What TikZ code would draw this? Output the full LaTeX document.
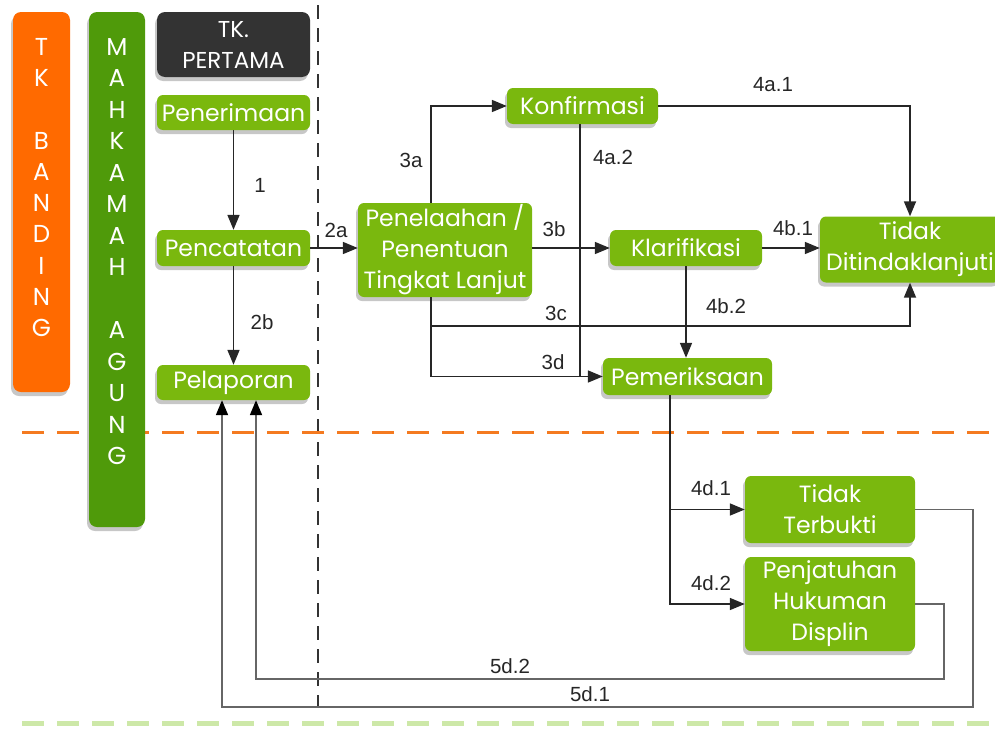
\documentclass[tikz,border=0pt]{standalone}
\usepackage{fontspec}
\newfontfamily\boxfont{Poppins}
\newfontfamily\lblfont{Liberation Sans}
\usetikzlibrary{arrows.meta,shadows,calc}
\definecolor{lgreen}{HTML}{7AB80E}
\definecolor{dgreen}{HTML}{4F9A0A}
\definecolor{orng}{HTML}{FF6A00}
\definecolor{dgray}{HTML}{333333}
\definecolor{dashorng}{HTML}{F47A20}
\definecolor{palegreen}{HTML}{CDE8A8}
\begin{document}
\begin{tikzpicture}[x=1pt,y=-1pt,
  shad/.style={drop shadow={shadow xshift=-2pt,shadow yshift=-4pt,opacity=0.22,fill=black}},
  gbox/.style={shad,fill=lgreen,rounded corners=6pt,text=white,font=\boxfont\fontsize{23.5}{31}\selectfont,align=center,inner sep=0pt},
  bar/.style={shad,rounded corners=8pt,inner sep=0pt},
  bartext/.style={text=white,font=\boxfont\fontsize{24.5}{31.3}\selectfont,align=center,inner sep=0pt},
  conn/.style={draw=black!85,line width=1.7pt},
  arr/.style={conn,-{Triangle[length=15pt,width=12pt]}},
  gconn/.style={draw=black!60,line width=1.8pt},
  garr/.style={gconn,-{Triangle[length=15pt,width=12pt,color=black]}},
  lbl/.style={font=\lblfont\fontsize{20.5}{22}\selectfont,text=black!85,inner sep=0pt}
]
\useasboundingbox (0,0) rectangle (995,728);

% separators
\coordinate (vt) at (318,5);
\coordinate (vb) at (318,707);
\draw[black!80,line width=1.8pt,dash pattern=on 14pt off 9pt] (vt) -- (vb);
\coordinate (ol) at (22,432);
\coordinate (or) at (990,432);
\draw[dashorng,line width=3pt,dash pattern=on 22pt off 13pt] (ol) -- (or);
\coordinate (gl) at (22,723);
\coordinate (gr) at (990,723);
\draw[palegreen,line width=5pt,dash pattern=on 22pt off 13pt] (gl) -- (gr);

% side bars
\node[bar,fill=orng,minimum width=57pt,minimum height=380pt] (tkb) at (41.5,202) {};
\node[bartext] (tkbt) at (41.5,187.5) {T\\K\\~\\B\\A\\N\\D\\I\\N\\G};
\node[bar,fill=dgreen,minimum width=56pt,minimum height=515pt] (ma) at (117,269.5) {};
\node[bartext,font=\boxfont\fontsize{24.5}{31.5}\selectfont] (mat) at (117,251.5) {M\\A\\H\\K\\A\\M\\A\\H\\~\\A\\G\\U\\N\\G};

% left column
\node[bar,fill=dgray,minimum width=153pt,minimum height=65pt,text=white,font=\boxfont\fontsize{23}{31}\selectfont,align=center] (tkp) at (233.5,44.5) {TK.\\PERTAMA};
\node[gbox,minimum width=153pt,minimum height=35pt] (pen) at (233.5,112.5) {Penerimaan};
\node[gbox,minimum width=153pt,minimum height=36pt] (pct) at (233.5,248) {Pencatatan};
\node[gbox,minimum width=153pt,minimum height=35pt] (plp) at (233.5,382.5) {Pelaporan};

% main boxes
\node[gbox,minimum width=174pt,minimum height=94pt] (tel) at (445,250) {Penelaahan /\\Penentuan\\Tingkat Lanjut};
\node[gbox,minimum width=151pt,minimum height=36pt] (konf) at (582.5,106) {Konfirmasi};
\node[gbox,minimum width=152pt,minimum height=36pt] (klar) at (686,248) {Klarifikasi};
\node[gbox,minimum width=180pt,minimum height=66pt] (tidak) at (910,249.5) {Tidak\\Ditindaklanjuti};
\node[gbox,minimum width=169pt,minimum height=37pt] (pem) at (687.5,376.5) {Pemeriksaan};
\node[gbox,minimum width=170pt,minimum height=67pt] (tt) at (830,509.5) {Tidak\\Terbukti};
\node[gbox,minimum width=170pt,minimum height=94pt] (pj) at (830,604) {Penjatuhan\\Hukuman\\Displin};

% helper coordinates
\coordinate (tx) at (431,0);
\coordinate (c3) at (431,326);
\coordinate (c4) at (580,0);
\coordinate (dx) at (670,0);
\coordinate (r1) at (973,707);
\coordinate (l1) at (222,707);
\coordinate (r2) at (944,679);
\coordinate (l2) at (256,679);

% connectors
\draw[arr] (pen) -- (pct);
\draw[arr] (pct) -- (plp);
\draw[arr] (pct.east) -- (tel.west |- pct.east);
\draw[arr] (tel.north -| tx) |- (konf.west);
\draw[arr] (tel.east |- klar) -- (klar.west);
\draw[arr] (tel.south -| c3) -- (c3) -| (tidak.south);
\draw[arr] (c3) |- (pem.west);
\draw[arr] (konf.east) -| (tidak.north);
\draw[conn] (konf.south -| c4) -- (pem.west -| c4);
\draw[arr] (klar.east) -- (tidak.west |- klar.east);
\draw[arr] (klar.south) -- (klar.south |- pem.north);
\draw[arr] (pem.south -| dx) |- (tt.west);
\draw[arr] (pem.south -| dx) |- (pj.west);
\draw[garr] (tt.east) -| (r1) -- (l1) -- (plp.south -| l1);
\draw[garr] (pj.east) -| (r2) -- (l2) -- (plp.south -| l2);

% labels
\node[lbl] (n1) at (260,185) {1};
\node[lbl] (n2b) at (262,322) {2b};
\node[lbl] (n2a) at (336,230) {2a};
\node[lbl] (n3a) at (411,160) {3a};
\node[lbl] (n4a2) at (613,157) {4a.2};
\node[lbl] (n4a1) at (773,85) {4a.1};
\node[lbl] (n3b) at (554,229) {3b};
\node[lbl] (n4b1) at (793,228) {4b.1};
\node[lbl] (n3c) at (556,313) {3c};
\node[lbl] (n4b2) at (726,306) {4b.2};
\node[lbl] (n3d) at (553,362) {3d};
\node[lbl] (n4d1) at (711,488) {4d.1};
\node[lbl] (n4d2) at (711,583) {4d.2};
\node[lbl] (n5d2) at (510,666) {5d.2};
\node[lbl] (n5d1) at (590,694) {5d.1};
\end{tikzpicture}
\end{document}
